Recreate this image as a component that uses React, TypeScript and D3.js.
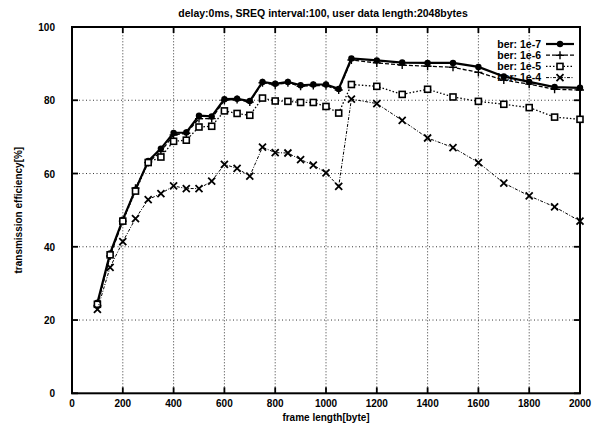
import React, { useEffect, useRef } from "react";
import * as d3 from "d3";

const frameLen = [100, 150, 200, 250, 300, 350, 400, 450, 500, 550, 600, 650, 700, 750, 800, 850, 900, 950, 1000, 1050, 1100, 1200, 1300, 1400, 1500, 1600, 1700, 1800, 1900, 2000];

const ber7 = [24.7, 38.2, 47.4, 55.6, 63.4, 66.8, 71.1, 71.2, 75.8, 75.6, 80.3, 80.4, 79.8, 85.0, 84.5, 85.0, 84.1, 84.3, 84.3, 83.1, 91.4, 90.9, 90.3, 90.2, 90.2, 89.1, 86.5, 85.0, 83.6, 83.4];
const ber6 = [24.0, 37.5, 47.0, 56.0, 63.0, 66.0, 70.5, 71.0, 75.0, 75.0, 80.0, 80.2, 79.5, 84.8, 84.2, 84.8, 83.8, 84.0, 84.0, 82.8, 91.0, 90.2, 89.6, 89.3, 89.0, 87.6, 85.5, 84.4, 83.0, 82.8];
const ber5 = [24.3, 37.8, 47.0, 55.2, 63.0, 64.5, 68.8, 69.1, 72.7, 72.9, 77.1, 76.4, 75.9, 80.6, 79.8, 79.7, 79.4, 79.4, 78.3, 76.5, 84.3, 83.8, 81.6, 83.0, 80.9, 79.7, 78.9, 78.0, 75.4, 74.8];
const ber4 = [22.9, 34.4, 41.4, 47.7, 52.9, 54.5, 56.6, 55.9, 55.9, 57.9, 62.5, 61.4, 59.3, 67.2, 65.7, 65.6, 63.8, 62.3, 60.2, 56.5, 80.3, 79.1, 74.5, 69.7, 67.1, 63.0, 57.4, 53.9, 50.9, 47.0];

const seriesNames = ["ber: 1e-7", "ber: 1e-6", "ber: 1e-5", "ber: 1e-4"];
const xTicks = [0, 200, 400, 600, 800, 1000, 1200, 1400, 1600, 1800, 2000];
const yTicks = [0, 20, 40, 60, 80, 100];

const title = "delay:0ms, SREQ interval:100, user data length:2048bytes";
const xTitle = "frame length[byte]";
const yTitle = "transmission efficiency[%]";

const width = 593;
const height = 423;
const margin = { top: 27, left: 72, bottom: 30, right: 13 };
const font = "'Liberation Sans', Arial, sans-serif";

const App = () => {
  const ref = useRef(null);

  useEffect(() => {
    const svg = d3.select(ref.current);
    svg.selectAll("*").remove();
    svg.attr("width", width).attr("height", height);

    const x = d3.scaleLinear().domain([0, 2000]).range([margin.left, width - margin.right]);
    const y = d3.scaleLinear().domain([0, 100]).range([height - margin.bottom + 0.3, margin.top]);

    // grid
    const grid = svg.append("g");
    xTicks.slice(1, -1).forEach(t => {
      grid.append("line")
        .attr("x1", x(t)).attr("x2", x(t))
        .attr("y1", y(0)).attr("y2", y(100))
        .attr("stroke", "#222").attr("stroke-width", 0.9)
        .attr("stroke-dasharray", "1,2");
    });
    yTicks.slice(1, -1).forEach(t => {
      grid.append("line")
        .attr("x1", x(0)).attr("x2", x(2000))
        .attr("y1", y(t)).attr("y2", y(t))
        .attr("stroke", "#222").attr("stroke-width", 0.9)
        .attr("stroke-dasharray", "1,2.5");
    });

    // frame and ticks (mirrored, inward)
    svg.append("rect")
      .attr("x", x(0)).attr("y", y(100))
      .attr("width", x(2000) - x(0)).attr("height", y(0) - y(100))
      .attr("fill", "none").attr("stroke", "#000").attr("stroke-width", 2);

    const tickLen = 6;
    xTicks.forEach(t => {
      svg.append("line").attr("x1", x(t)).attr("x2", x(t))
        .attr("y1", y(0)).attr("y2", y(0) - tickLen).attr("stroke", "#000").attr("stroke-width", 1.8);
      svg.append("line").attr("x1", x(t)).attr("x2", x(t))
        .attr("y1", y(100)).attr("y2", y(100) + tickLen).attr("stroke", "#000").attr("stroke-width", 1.8);
      svg.append("text")
        .attr("x", x(t)).attr("y", y(0) + 14)
        .attr("text-anchor", "middle")
        .style("font-family", font).style("font-size", "10px").style("font-weight", "bold")
        .text(t);
    });
    yTicks.forEach(t => {
      svg.append("line").attr("x1", x(0)).attr("x2", x(0) + tickLen)
        .attr("y1", y(t)).attr("y2", y(t)).attr("stroke", "#000").attr("stroke-width", 1.8);
      svg.append("line").attr("x1", x(2000)).attr("x2", x(2000) - tickLen)
        .attr("y1", y(t)).attr("y2", y(t)).attr("stroke", "#000").attr("stroke-width", 1.8);
      svg.append("text")
        .attr("x", x(0) - 17).attr("y", y(t) + 4)
        .attr("text-anchor", "end")
        .style("font-family", font).style("font-size", "10px").style("font-weight", "bold")
        .text(t);
    });

    // titles
    svg.append("text")
      .attr("x", (x(0) + x(2000)) / 2 - 3).attr("y", 17)
      .attr("text-anchor", "middle")
      .style("font-family", font).style("font-size", "10.5px").style("font-weight", "bold")
      .text(title);
    svg.append("text")
      .attr("x", (x(0) + x(2000)) / 2).attr("y", 421)
      .attr("text-anchor", "middle")
      .style("font-family", font).style("font-size", "10px").style("font-weight", "bold")
      .text(xTitle);
    svg.append("text")
      .attr("transform", `translate(22,${(y(0) + y(100)) / 2}) rotate(-90)`)
      .attr("text-anchor", "middle")
      .style("font-family", font).style("font-size", "10px").style("font-weight", "bold")
      .text(yTitle);

    // series
    const styles = [
      { data: ber7, width: 2.2, dash: null, marker: "circle" },
      { data: ber6, width: 1.3, dash: "4,2", marker: "plus" },
      { data: ber5, width: 1.3, dash: "1.5,2", marker: "square" },
      { data: ber4, width: 1.0, dash: "3,1.5,1,1.5", marker: "cross" },
    ];

    const drawMarker = (g, type, cx, cy) => {
      if (type === "circle") {
        g.append("circle").attr("cx", cx).attr("cy", cy).attr("r", 3.2).attr("fill", "#000");
      } else if (type === "plus") {
        g.append("path").attr("d", `M${cx - 4},${cy}H${cx + 4}M${cx},${cy - 4}V${cy + 4}`)
          .attr("stroke", "#000").attr("stroke-width", 1.4).attr("fill", "none");
      } else if (type === "square") {
        g.append("rect").attr("x", cx - 3).attr("y", cy - 3).attr("width", 6).attr("height", 6)
          .attr("fill", "#fff").attr("stroke", "#000").attr("stroke-width", 1.6);
      } else {
        g.append("path").attr("d", `M${cx - 3.5},${cy - 3.5}L${cx + 3.5},${cy + 3.5}M${cx - 3.5},${cy + 3.5}L${cx + 3.5},${cy - 3.5}`)
          .attr("stroke", "#000").attr("stroke-width", 1.8).attr("fill", "none");
      }
    };

    const line = d3.line<number>().x((d, i) => x(frameLen[i])).y(d => y(d));

    styles.forEach(s => {
      const g = svg.append("g");
      g.append("path")
        .attr("d", line(s.data))
        .attr("fill", "none")
        .attr("stroke", "#000")
        .attr("stroke-width", s.width)
        .attr("stroke-dasharray", s.dash);
      s.data.forEach((d, i) => drawMarker(g, s.marker, x(frameLen[i]), y(d)));
    });

    // legend
    const legend = svg.append("g");
    styles.forEach((s, i) => {
      const ly = 44 + i * 11.2;
      legend.append("text")
        .attr("x", 541).attr("y", ly + 3.8)
        .attr("text-anchor", "end")
        .style("font-family", font).style("font-size", "10.5px").style("font-weight", "bold")
        .text(seriesNames[i]);
      legend.append("line")
        .attr("x1", 546).attr("x2", 574).attr("y1", ly).attr("y2", ly)
        .attr("stroke", "#000").attr("stroke-width", s.width)
        .attr("stroke-dasharray", s.dash);
      drawMarker(legend, s.marker, 560, ly);
    });
  }, []);

  return (
    <div style={{ position: "absolute", left: 0, top: 0 }}>
      <svg ref={ref} style={{ display: "block", background: "#fff" }} />
    </div>
  );
};

export default App;
